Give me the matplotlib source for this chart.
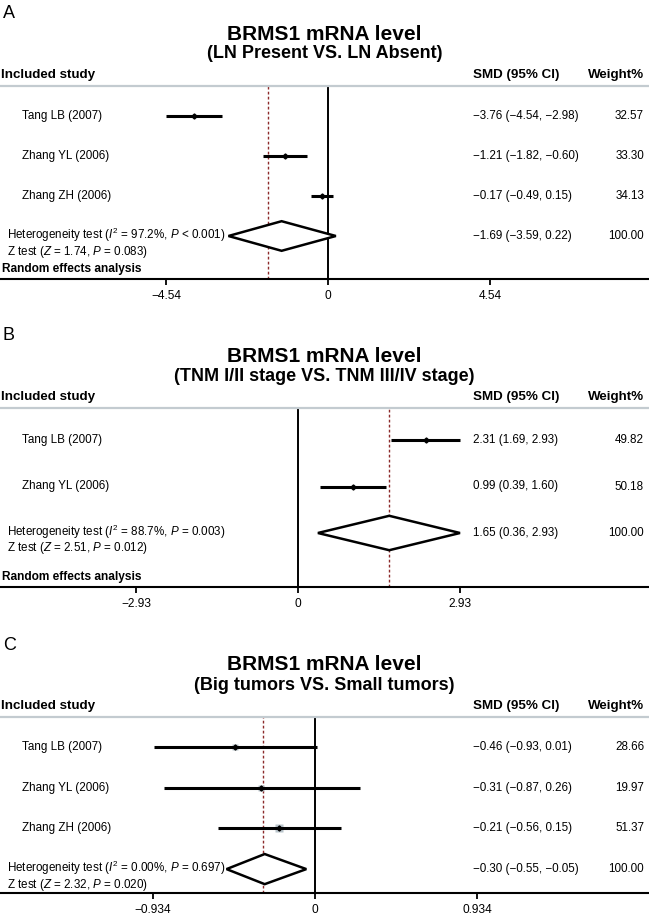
import matplotlib
matplotlib.use('Agg')
import matplotlib.pyplot as plt
from matplotlib.patches import Polygon
from matplotlib.transforms import blended_transform_factory

plt.rcParams['font.family'] = 'Liberation Sans'
plt.rcParams['mathtext.fontset'] = 'custom'
plt.rcParams['mathtext.rm'] = 'Liberation Sans'
plt.rcParams['mathtext.it'] = 'Liberation Sans:italic'

# ---- data ----
subtitles = ['(LN Present VS. LN Absent)',
             '(TNM I/II stage VS. TNM III/IV stage)',
             '(Big tumors VS. Small tumors)']
panel_letters = ['A', 'B', 'C']

studies_a = ['Tang LB (2007)', 'Zhang YL (2006)', 'Zhang ZH (2006)']
smd_a = [-3.76, -1.21, -0.17]
lo_a = [-4.54, -1.82, -0.49]
hi_a = [-2.98, -0.60, 0.15]
weight_a = [32.57, 33.30, 34.13]
pooled_a = [-1.69, -3.59, 0.22]
diamond_a = [-2.79, -1.30, 0.22]   # as drawn
het_a = ['97.2%', '< 0.001']
ztest_a = ['1.74', '= 0.083']
ticks_a = [-4.54, 0, 4.54]

studies_b = ['Tang LB (2007)', 'Zhang YL (2006)']
smd_b = [2.31, 0.99]
lo_b = [1.69, 0.39]
hi_b = [2.93, 1.60]
weight_b = [49.82, 50.18]
pooled_b = [1.65, 0.36, 2.93]
diamond_b = [0.36, 1.65, 2.93]
het_b = ['88.7%', '= 0.003']
ztest_b = ['2.51', '= 0.012']
ticks_b = [-2.93, 0, 2.93]

studies_c = ['Tang LB (2007)', 'Zhang YL (2006)', 'Zhang ZH (2006)']
smd_c = [-0.46, -0.31, -0.21]
lo_c = [-0.93, -0.87, -0.56]
hi_c = [0.01, 0.26, 0.15]
weight_c = [28.66, 19.97, 51.37]
pooled_c = [-0.30, -0.55, -0.05]
diamond_c = [-0.51, -0.29, -0.05]
het_c = ['0.00%', '= 0.697']
ztest_c = ['2.32', '= 0.020']
ticks_c = [-0.934, 0, 0.934]

# ---- layout (pixels from top-left) ----
W, H = 649, 916
layout = [
    dict(line=86, axis=279, row0=116, step=40.0, zero=328, box=0.45, random=True),
    dict(line=408, axis=587, row0=440, step=46.5, zero=298, box=0.45, random=True),
    dict(line=717, axis=893, row0=747, step=40.7, zero=315, box=0.85, random=False),
]
panels = [
    (studies_a, smd_a, lo_a, hi_a, weight_a, pooled_a, diamond_a, het_a, ztest_a, ticks_a),
    (studies_b, smd_b, lo_b, hi_b, weight_b, pooled_b, diamond_b, het_b, ztest_b, ticks_b),
    (studies_c, smd_c, lo_c, hi_c, weight_c, pooled_c, diamond_c, het_c, ztest_c, ticks_c),
]


def fmt(v):
    return ('%.2f' % v).replace('-', '\u2212')


def fy(px):
    return 1 - px / H


fig = plt.figure(figsize=(W / 100, H / 100), dpi=100)
body = 8.4

for k, (lay, data) in enumerate(zip(layout, panels)):
    studies, smd, lo, hi, weight, pooled, diamond, het, ztest, ticks = data
    n = len(studies)
    ax = fig.add_axes([0, fy(lay['axis']), 1, (lay['axis'] - lay['line']) / H])
    step = lay['step']
    ax.set_ylim((lay['axis'] - lay['row0']) / step, (lay['line'] - lay['row0']) / step)
    unit = 162.0 / ticks[-1]
    ax.set_xlim(-lay['zero'] / unit, (W - lay['zero']) / unit)

    for s in ['left', 'right']:
        ax.spines[s].set_visible(False)
    ax.spines['top'].set_color('#c3cbd0')
    ax.spines['top'].set_linewidth(1.6)
    ax.spines['bottom'].set_linewidth(1.5)
    ax.set_yticks([])
    ax.set_xticks(ticks)
    ax.set_xticklabels([('%g' % t).replace('-', '\u2212') for t in ticks], fontsize=8.6)
    ax.tick_params(axis='x', length=4, width=1.3, pad=4)

    ax.axvline(0, color='black', lw=1.4, zorder=2)
    ax.axvline(pooled[0], color='#8c2a2a', lw=1.0, ls=(0, (2, 1.6)), zorder=2)

    tr = blended_transform_factory(fig.transFigure, ax.transData)
    for i in range(n):
        ax.plot(smd[i], i, 's', color='#b9c4cb', ms=lay['box'] * weight[i] ** 0.5,
                mec='none', zorder=3)
        ax.plot([lo[i], hi[i]], [i, i], color='black', lw=2.2, solid_capstyle='butt', zorder=4)
        ax.plot(smd[i], i, 'D', color='black', ms=2.6, zorder=5)
        ax.text(22 / W, i, studies[i], transform=tr, fontsize=body, va='center', ha='left')
        ax.text(473 / W, i, '%s (%s, %s)' % (fmt(smd[i]), fmt(lo[i]), fmt(hi[i])),
                transform=tr, fontsize=body, va='center', ha='left')
        ax.text(644 / W, i, '%.2f' % weight[i], transform=tr, fontsize=body,
                va='center', ha='right')

    h = 0.37
    ax.add_patch(Polygon([(diamond[0], n), (diamond[1], n - h), (diamond[2], n),
                          (diamond[1], n + h)], closed=True, fc='white', ec='black',
                         lw=1.8, zorder=4, joinstyle='miter'))
    ax.text(7 / W, n - 1 / step, r'Heterogeneity test ($I^2$ = %s, $P$ %s)' % (het[0], het[1]),
            transform=tr, fontsize=body, va='center', ha='left')
    ax.text(7 / W, n + 15.5 / step, r'Z test ($Z$ = %s, $P$ %s)' % (ztest[0], ztest[1]),
            transform=tr, fontsize=body, va='center', ha='left')
    ax.text(473 / W, n, '%s (%s, %s)' % (fmt(pooled[0]), fmt(pooled[1]), fmt(pooled[2])),
            transform=tr, fontsize=body, va='center', ha='left')
    ax.text(644 / W, n, '100.00', transform=tr, fontsize=body, va='center', ha='right')
    if lay['random']:
        ax.text(2 / W, (lay['axis'] - lay['row0'] - 10) / step, 'Random effects analysis',
                transform=tr, fontsize=8.6, fontweight='bold', va='center', ha='left')

    # headers and titles
    top = lay['line']
    fig.text(3 / W, fy(top - 72), panel_letters[k], fontsize=13, va='center', ha='left')
    fig.text(0.5, fy(top - 52), 'BRMS1 mRNA level', fontsize=15, fontweight='bold',
             va='center', ha='center')
    fig.text(0.5, fy(top - 32), subtitles[k], fontsize=13, fontweight='bold',
             va='center', ha='center')
    fig.text(1 / W, fy(top - 11), 'Included study', fontsize=9.6, fontweight='bold',
             va='center', ha='left')
    fig.text(473 / W, fy(top - 11), 'SMD (95% CI)', fontsize=9.6, fontweight='bold',
             va='center', ha='left')
    fig.text(644 / W, fy(top - 11), 'Weight%', fontsize=9.6, fontweight='bold',
             va='center', ha='right')

fig.savefig('out.png', dpi=100)
